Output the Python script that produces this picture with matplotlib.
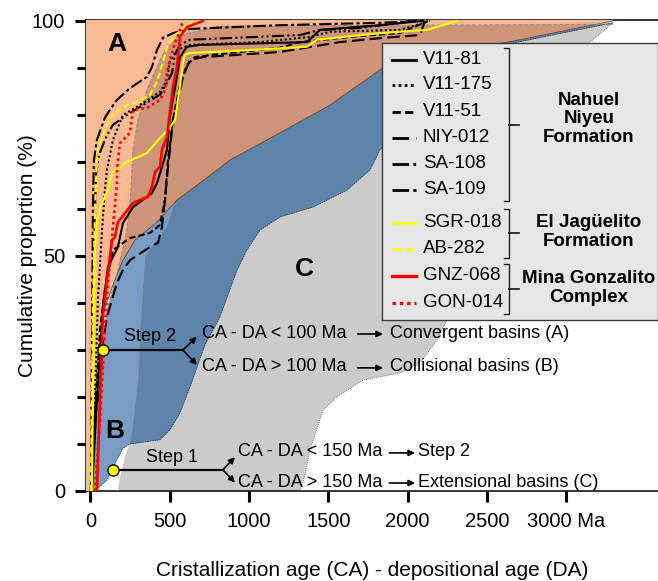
import numpy as np
import matplotlib
matplotlib.use("Agg")
import matplotlib.pyplot as plt
from matplotlib.ticker import MultipleLocator

plt.rcParams['font.family'] = ['Liberation Sans', 'DejaVu Sans']

# === FIELD BOUNDARIES (CA-DA in Ma, cumulative %) ===
# A (convergent) right edge
ra_x = [0, 22, 47, 85, 154, 205, 281, 419, 545, 690, 880, 1195, 1510, 1825, 2266, 2664, 3294]
ra_y = [0, 15.1, 27.9, 38.5, 44.9, 49.1, 53.4, 57.2, 61.9, 65.5, 70.4, 76.2, 82.1, 89.6, 93.4, 95.7, 100]
# B (collisional) left and right edges
lb_x = [0, 35, 66, 104, 173, 230, 255, 268, 299, 356, 419, 470, 564, 816, 3294]
lb_y = [0, 15.1, 27.9, 38.5, 47.0, 55.5, 64.0, 72.6, 78.9, 85.3, 90.2, 93.8, 97.0, 98.9, 99.3]
rb_x = [28, 104, 167, 205, 249, 438, 501, 564, 627, 722, 816, 924, 987, 1069, 1195, 1403,
        1617, 1762, 1825, 2077, 2329, 2581, 2664, 3294]
rb_y = [0, 2.3, 6.6, 9.1, 10.0, 10.9, 13.0, 16.6, 22.1, 31.1, 37.0, 47.0, 51.3, 55.5, 58.3, 60.4,
        64.0, 68.3, 72.6, 81.1, 88.5, 93.8, 95.3, 99.6]
# C (extensional) left and right edges
lc_x = [173, 192, 224, 249, 268, 299, 312, 325, 344, 438, 482, 520, 552, 564, 627, 671, 772,
        987, 1239, 1403, 1951, 3294]
lc_y = [0, 3.4, 7.7, 10.2, 14.5, 23.6, 34.3, 40.6, 49.8, 54.5, 56.2, 60.4, 65.5, 72.6, 78.3,
        81.1, 85.3, 89.6, 93.8, 97.0, 98.7, 99.6]
rc_x = [1321, 1352, 1384, 1466, 1554, 1718, 1951, 2077, 2185, 2248, 2456, 2708, 2960, 3149, 3294]
rc_y = [0, 3.4, 8.7, 17.2, 20.0, 23.6, 25.1, 27.2, 32.1, 36.4, 51.3, 68.3, 83.2, 95.5, 99.6]

# === SAMPLE CURVES ===
v11_81_x = [9, 41, 79, 110, 142, 173, 205, 268, 388, 419, 451, 482, 501, 545, 564, 608, 690,
            1365, 1447, 1825, 2096]
v11_81_y = [0, 19.4, 39.1, 47.7, 49.8, 51.9, 57.0, 60.4, 63.4, 65.5, 68.9, 72.6, 79.6, 88.1,
            92.3, 94.5, 94.9, 95.5, 98.1, 99.1, 100]
v11_175_x = [9, 28, 47, 73, 91, 104, 142, 205, 293, 363, 438, 482, 501, 545, 627, 1069, 1384,
             1510, 1951, 2140]
v11_175_y = [0, 19.4, 40.6, 55.5, 64.0, 68.3, 74.7, 80.0, 81.7, 83.2, 84.9, 87.4, 91.3, 93.8,
             94.9, 95.5, 96.6, 97.7, 98.1, 100]
v11_51_x = [9, 35, 60, 91, 142, 249, 375, 438, 470, 489, 520, 564, 608, 659, 772, 1195, 1321,
            1699, 1951, 2128]
v11_51_y = [0, 19.4, 34.3, 42.8, 51.3, 53.8, 54.9, 56.6, 61.9, 70.4, 78.9, 86.4, 90.6, 92.3,
            92.8, 94.3, 95.5, 96.8, 97.4, 100]
niy_012_x = [3, 22, 60, 79, 104, 167, 205, 249, 375, 426, 451, 470, 489, 501, 520, 552, 583,
             627, 709, 1195, 1573, 1844, 2077, 2109]
niy_012_y = [0, 15.1, 21.5, 31.5, 37.0, 44.3, 47.0, 49.1, 51.9, 52.8, 56.2, 61.9, 68.9, 72.6,
             78.9, 83.2, 88.1, 91.7, 92.3, 93.4, 95.5, 96.4, 97.0, 100]
sa_108_x = [3, 16, 22, 35, 54, 104, 142, 230, 356, 438, 482, 514, 533, 564, 627, 1321, 1447,
            1699, 1951, 2014]
sa_108_y = [0, 30.0, 51.3, 67.2, 71.5, 75.7, 77.9, 80.0, 82.6, 84.3, 86.8, 88.9, 92.8, 94.9,
            96.0, 97.0, 98.1, 98.5, 99.6, 100]
sa_109_x = [3, 9, 16, 22, 41, 91, 123, 167, 249, 356, 388, 419, 457, 520, 627, 1195, 1825, 2058]
sa_109_y = [0, 30.0, 61.9, 70.4, 74.7, 79.4, 81.1, 83.2, 85.7, 88.1, 90.2, 93.8, 96.4, 97.4,
            98.3, 99.1, 99.6, 100]
sgr_018_x = [9, 22, 28, 41, 73, 110, 136, 230, 356, 438, 489, 533, 564, 583, 596, 627, 898,
             1365, 1428, 1825, 2122, 2311]
sgr_018_y = [0, 40.6, 51.3, 57.7, 61.3, 64.0, 67.7, 70.0, 71.9, 75.1, 76.8, 78.9, 86.0, 91.1,
             92.8, 93.2, 93.6, 94.5, 96.0, 97.4, 98.1, 100]
ab_282_x = [3, 9, 16, 28, 35, 47, 60, 91, 123, 205, 281, 375, 419, 451, 482, 533, 596, 646]
ab_282_y = [0, 19.4, 40.6, 57.7, 66.2, 73.2, 74.0, 76.8, 79.6, 81.7, 82.6, 84.3, 87.0, 90.6,
            94.3, 97.0, 98.7, 100]
gnz_068_x = [41, 60, 73, 79, 104, 136, 154, 173, 199, 268, 363, 388, 407, 438, 451, 482, 520,
             545, 564, 608, 709]
gnz_068_y = [0, 19.4, 32.8, 37.0, 44.9, 53.4, 54.0, 57.2, 58.3, 61.3, 62.6, 64.7, 67.9, 68.9,
             72.6, 75.3, 86.0, 90.2, 96.6, 98.7, 100]
gon_014_x = [28, 60, 91, 110, 142, 167, 167, 186, 249, 268, 356, 438, 470, 482, 501, 533, 564, 583]
gon_014_y = [0, 15, 34.3, 44.3, 56.2, 65.5, 68.3, 74.0, 76.2, 81.1, 81.5, 83.2, 85.3, 88.9,
             91.7, 95.3, 98.1, 100]

names = ["V11-81", "V11-175", "V11-51", "NIY-012", "SA-108", "SA-109",
         "SGR-018", "AB-282", "GNZ-068", "GON-014"]
xs = [v11_81_x, v11_175_x, v11_51_x, niy_012_x, sa_108_x, sa_109_x,
      sgr_018_x, ab_282_x, gnz_068_x, gon_014_x]
ys = [v11_81_y, v11_175_y, v11_51_y, niy_012_y, sa_108_y, sa_109_y,
      sgr_018_y, ab_282_y, gnz_068_y, gon_014_y]
colors = ["black"] * 6 + ["#FFFF00", "#FFFF00", "#FF0000", "#FF0000"]
styles = ["-", (0, (1, 1.2)), (0, (3, 1.5)), (0, (6, 2.5)), (0, (6, 1.5, 1, 1.5, 1, 1.5)),
          (0, (6, 1.5, 1.5, 1.5)), "-", (0, (3, 1.5)), "-", (0, (1, 1.2))]
widths = [1.5] * 8 + [1.9, 1.9]

groups = ["Nahuel\nNiyeu\nFormation", "El Jagüelito\nFormation", "Mina Gonzalito\nComplex"]

# step points (Ma, %)
step_x = [79, 145]
step_y = [30.0, 4.5]

# === FIGURE ===
fig = plt.figure(figsize=(6.58, 5.81), dpi=100)
ax = fig.add_axes([86 / 658, 90 / 581, 572 / 658, 471 / 581])
ax.set_xlim(-28, 3578)
ax.set_ylim(0, 100.2)

salmon = "#F9B995"
brown = "#CF9378"
lblue = "#789CC4"
dblue = "#5F84AB"
gray = "#CBCBCB"

c_poly = ax.fill(lc_x + rc_x[::-1], lc_y + rc_y[::-1], color=gray, lw=0, zorder=1)[0]
b_x = lb_x + rb_x[::-1]
b_y = lb_y + rb_y[::-1]
ax.fill(b_x, b_y, color=lblue, lw=0, zorder=2)
bc = ax.fill(b_x, b_y, color=dblue, lw=0, zorder=3)[0]
bc.set_clip_path(c_poly)
a_poly = ax.fill([-28, -28, 3294] + ra_x[::-1], [0, 100.5, 100.5] + ra_y[::-1],
                 color=salmon, lw=0, zorder=4)[0]
ab = ax.fill(b_x, b_y, color=brown, lw=0, zorder=5)[0]
ab.set_clip_path(a_poly)

# boundary lines
ax.plot(ra_x, ra_y, color="#4a4a4a", lw=0.6, zorder=6)
ax.plot(lb_x, lb_y, color="#8a8a8a", lw=0.7, ls=(0, (4, 2)), zorder=6)
ax.plot(rb_x, rb_y, color="#3a3a3a", lw=0.6, ls=(0, (2, 1)), zorder=6)
ax.plot(lc_x, lc_y, color="#a8a8a8", lw=0.6, ls=(0, (1, 1.5)), zorder=6)
ax.plot(rc_x, rc_y, color="#555555", lw=0.6, ls=(0, (1, 1.5)), zorder=6)

# sample curves
for i in range(len(names)):
    ax.plot(xs[i], ys[i], color=colors[i], ls=styles[i], lw=widths[i], zorder=7 + i)

# field letters
ax.text(167, 95.1, "A", fontsize=19, fontweight="bold", ha="center", va="center", zorder=20)
ax.text(154, 12.8, "B", fontsize=19, fontweight="bold", ha="center", va="center", zorder=20)
ax.text(1346, 47.2, "C", fontsize=19, fontweight="bold", ha="center", va="center", zorder=20)

# === STEP ANNOTATIONS ===
fs = 13
arrow = dict(arrowstyle="-|>", color="black", lw=1.2, mutation_scale=9, shrinkA=0, shrinkB=0)
# step 2
ax.plot([step_x[0], 583], [step_y[0], step_y[0]], color="black", lw=1.6, zorder=20)
ax.text(375, 31.0, "Step 2", fontsize=fs, ha="center", va="bottom", zorder=20)
ax.annotate("", xy=(671, 32.8), xytext=(583, step_y[0]), arrowprops=arrow, zorder=20)
ax.annotate("", xy=(671, 26.8), xytext=(583, step_y[0]), arrowprops=arrow, zorder=20)
ax.text(704, 33.6, "CA - DA < 100 Ma", fontsize=fs, va="center", zorder=20)
ax.text(704, 26.4, "CA - DA > 100 Ma", fontsize=fs, va="center", zorder=20)
ax.annotate("", xy=(1844, 33.4), xytext=(1685, 33.4), arrowprops=arrow, zorder=20)
ax.annotate("", xy=(1844, 26.2), xytext=(1685, 26.2), arrowprops=arrow, zorder=20)
ax.text(1888, 33.6, "Convergent basins (A)", fontsize=fs, va="center", zorder=20)
ax.text(1888, 26.4, "Collisional basins (B)", fontsize=fs, va="center", zorder=20)
# step 1
ax.plot([step_x[1], 835], [step_y[1], step_y[1]], color="black", lw=1.6, zorder=20)
ax.text(514, 5.3, "Step 1", fontsize=fs, ha="center", va="bottom", zorder=20)
ax.annotate("", xy=(911, 7.2), xytext=(835, step_y[1]), arrowprops=arrow, zorder=20)
ax.annotate("", xy=(911, 1.8), xytext=(835, step_y[1]), arrowprops=arrow, zorder=20)
ax.text(930, 8.3, "CA - DA < 150 Ma", fontsize=fs, va="center", zorder=20)
ax.text(930, 1.9, "CA - DA > 150 Ma", fontsize=fs, va="center", zorder=20)
ax.annotate("", xy=(2046, 8.1), xytext=(1885, 8.1), arrowprops=arrow, zorder=20)
ax.annotate("", xy=(2046, 1.7), xytext=(1885, 1.7), arrowprops=arrow, zorder=20)
ax.text(2065, 8.3, "Step 2", fontsize=fs, va="center", zorder=20)
ax.text(2065, 1.9, "Extensional basins (C)", fontsize=fs, va="center", zorder=20)

ax.plot(step_x, step_y, "o", mfc="#FFFF00", mec="black", mew=1, ms=8, zorder=25)

# === AXES STYLE ===
ax.set_xticks([0, 500, 1000, 1500, 2000, 2500, 3000])
ax.set_xticklabels(["0", "500", "1000", "1500", "2000", "2500", "3000 Ma"])
ax.yaxis.set_major_locator(MultipleLocator(50))
ax.yaxis.set_minor_locator(MultipleLocator(10))
ax.tick_params(axis="both", which="major", direction="out", length=8, width=2.2,
               labelsize=14.5, pad=7)
ax.tick_params(axis="y", which="minor", direction="out", length=6.5, width=2.2)
for s in ["left", "bottom", "top"]:
    ax.spines[s].set_linewidth(1.1)
ax.spines["right"].set_visible(False)
ax.set_xlabel("Cristallization age (CA) - depositional age (DA)", fontsize=15, labelpad=22)
ax.set_ylabel("Cumulative proportion (%)", fontsize=15, labelpad=-4)

# === LEGEND BOX ===
lg = fig.add_axes([382 / 658, 1 - 320 / 581, 276 / 658, 277 / 581])
lg.set_xlim(0, 276)
lg.set_ylim(277, 0)
lg.set_facecolor("#E6E6E6")
for s in lg.spines.values():
    s.set_color("#3c3c3c")
    s.set_linewidth(1)
lg.set_xticks([])
lg.set_yticks([])
rows = [17, 42, 69, 95, 121, 147, 180, 206, 233, 260]
for i in range(len(names)):
    lg.plot([10, 34], [rows[i], rows[i]], color=colors[i], ls=styles[i], lw=widths[i] + 0.5)
    lg.text(41, rows[i], names[i], fontsize=13.5, va="center")
brackets = [(5.5, 158), (166, 215), (221, 271)]
group_y = [76, 189, 245]
for (y0, y1), gy, g in zip(brackets, group_y, groups):
    lg.plot([122, 127, 127, 122], [y0, y0, y1, y1], color="#222222", lw=1)
    lg.plot([127, 137], [(y0 + y1) / 2] * 2, color="#222222", lw=1.3)
    lg.text(207, gy, g, fontsize=13.5, fontweight="bold", ha="center", va="center",
            linespacing=1.15)

fig.savefig("out.png", dpi=100)
